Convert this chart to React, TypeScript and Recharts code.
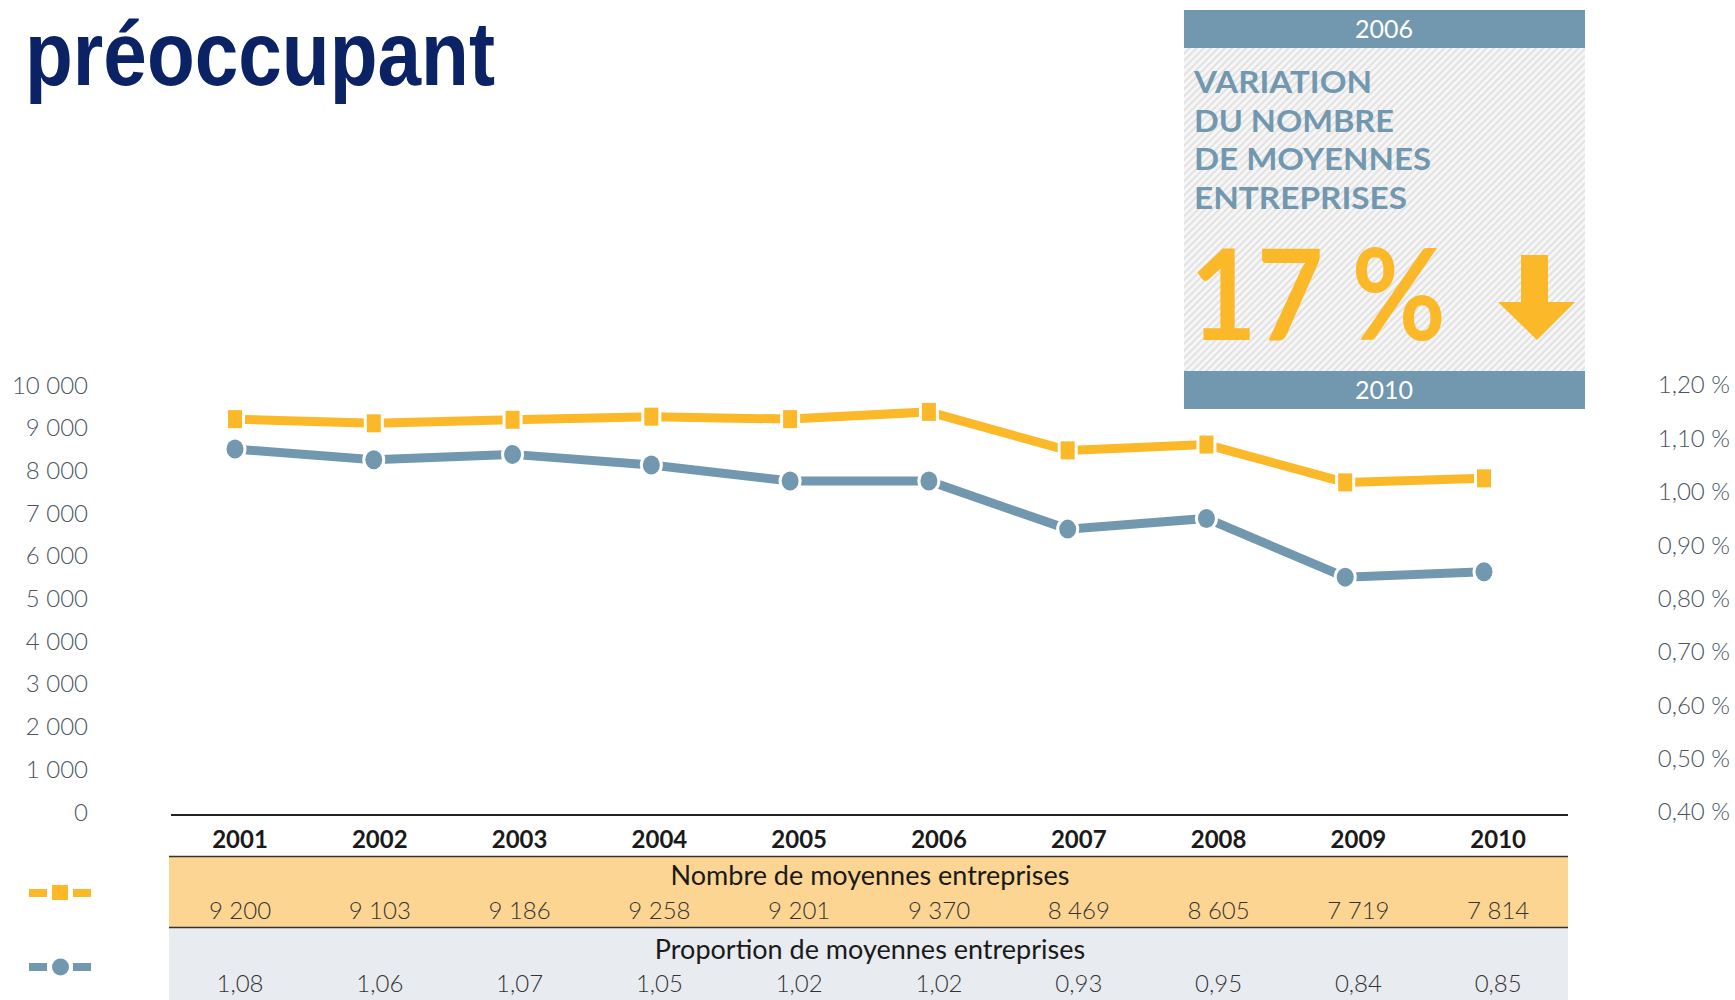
import React from "react";
import { LineChart, Line, XAxis, YAxis } from "recharts";

const years = ["2001", "2002", "2003", "2004", "2005", "2006", "2007", "2008", "2009", "2010"];
const nombre = [9200, 9103, 9186, 9258, 9201, 9370, 8469, 8605, 7719, 7814];
const proportion = [1.08, 1.06, 1.07, 1.05, 1.02, 1.02, 0.93, 0.95, 0.84, 0.85];
const leftTicks = [0, 1000, 2000, 3000, 4000, 5000, 6000, 7000, 8000, 9000, 10000];
const rightTicks = [0.4, 0.5, 0.6, 0.7, 0.8, 0.9, 1.0, 1.1, 1.2];
const boxLines = ["VARIATION", "DU NOMBRE", "DE MOYENNES", "ENTREPRISES"];

const YELLOW = "#fbb829";
const BLUE = "#7298b0";
const NAVY = "#0b2265";
const FONT = "Lato, 'Open Sans', sans-serif";

const data = years.map((y, i) => ({ year: y, nombre: nombre[i], proportion: proportion[i] }));

const fmtNombre = (v: number) => v.toString().replace(/\B(?=(\d{3})+(?!\d))/g, " ");
const fmtProp = (v: number) => v.toFixed(2).replace(".", ",");

const SquareDot = ({ cx, cy }: any) => (
  <g>
    <rect x={cx - 10} y={cy - 12} width={20} height={24} fill="#fff" />
    <rect x={cx - 7} y={cy - 9} width={14} height={18} fill={YELLOW} />
  </g>
);

const RoundDot = ({ cx, cy }: any) => (
  <g>
    <ellipse cx={cx} cy={cy} rx={11.5} ry={12.5} fill="#fff" />
    <ellipse cx={cx} cy={cy} rx={8.5} ry={9.5} fill={BLUE} />
  </g>
);

const RightTick = ({ x, y, payload }: any) => (
  <text x={x + 246} y={y} dy="0.35em" textAnchor="end" fontSize={24} fontWeight={300}
    fontFamily={FONT} fill="#4a5561">
    {fmtProp(payload.value)} %
  </text>
);

const colX = (i: number) => 240 + i * 139.8;

export default function App() {
  return (
    <div style={{ position: "absolute", left: 0, top: 0, width: 1735, height: 1000, background: "#fff", overflow: "hidden" }}>
      {/* title */}
      <svg width={700} height={130} style={{ position: "absolute", left: 0, top: 0 }}>
        <text x={25} y={85} fontSize={90} fontWeight={700} fontFamily="'Liberation Sans', Arial, sans-serif"
          fill={NAVY} textLength={470} lengthAdjust="spacingAndGlyphs">
          préoccupant
        </text>
      </svg>

      <div style={{ position: "absolute", left: 0, top: 0 }}>
        <LineChart width={1735} height={1000} data={data} margin={{ top: 385, bottom: 188, left: 0, right: 0 }}>
          <XAxis dataKey="year" hide />
          <YAxis
            yAxisId="left"
            width={235}
            domain={[0, 10000]}
            ticks={leftTicks}
            interval={0}
            axisLine={false}
            tickLine={false}
            tickSize={0}
            tickMargin={147}
            tickFormatter={fmtNombre}
            tick={{ fontSize: 24, fontWeight: 300, fontFamily: FONT, fill: "#4a5561" }}
          />
          <YAxis
            yAxisId="right"
            orientation="right"
            width={251}
            domain={[0.4, 1.2]}
            ticks={rightTicks}
            interval={0}
            axisLine={false}
            tickLine={false}
            tickSize={0}
            tickMargin={0}
            tick={<RightTick />}
          />
          <Line yAxisId="right" type="linear" dataKey="proportion" stroke={BLUE} strokeWidth={9}
            dot={<RoundDot />} isAnimationActive={false} />
          <Line yAxisId="left" type="linear" dataKey="nombre" stroke={YELLOW} strokeWidth={9}
            dot={<SquareDot />} isAnimationActive={false} />
        </LineChart>
      </div>

      {/* info box */}
      <svg width={401} height={400} style={{ position: "absolute", left: 1184, top: 10 }}>
        <defs>
          <pattern id="hatch" width={5} height={5} patternUnits="userSpaceOnUse" patternTransform="rotate(45)">
            <rect width={5} height={5} fill="#f6f6f6" />
            <rect width={2} height={5} fill="#e2e2e2" />
          </pattern>
        </defs>
        <rect x={0} y={0} width={401} height={399} fill="url(#hatch)" />
        <rect x={0} y={0} width={401} height={38} fill={BLUE} />
        <rect x={0} y={361} width={401} height={38} fill={BLUE} />
        <text x={200} y={19} dy="0.35em" textAnchor="middle" fontSize={25} fontFamily={FONT} fill="#fff">2006</text>
        <text x={200} y={380} dy="0.35em" textAnchor="middle" fontSize={25} fontFamily={FONT} fill="#fff">2010</text>
        {boxLines.map((t, i) => (
          <text key={t} x={10} y={83 + i * 38.7} fontSize={30} fontWeight={700} fontFamily={FONT} fill={BLUE}
            textLength={[178, 200, 237, 213][i]} lengthAdjust="spacingAndGlyphs">
            {t}
          </text>
        ))}
        <text x={6} y={330} fontSize={126} fontWeight={700} fontFamily={FONT} fill={YELLOW}
          textLength={256} lengthAdjust="spacingAndGlyphs">
          17 %
        </text>
        <polygon points="337,245 364,245 364,292 391,292 353,330 314,292 337,292" fill={YELLOW} />
      </svg>

      {/* legend icons */}
      <svg width={100} height={100} style={{ position: "absolute", left: 0, top: 880 }}>
        <rect x={29} y={9} width={18} height={8} fill={YELLOW} />
        <rect x={52} y={5} width={16} height={15} fill={YELLOW} />
        <rect x={73} y={9} width={18} height={8} fill={YELLOW} />
        <rect x={29} y={83} width={18} height={8} fill={BLUE} />
        <circle cx={60.5} cy={87} r={8.5} fill={BLUE} />
        <rect x={73} y={83} width={18} height={8} fill={BLUE} />
      </svg>

      {/* data table */}
      <svg width={1400} height={190} style={{ position: "absolute", left: 169, top: 812 }}>
        <rect x={0} y={45} width={1399} height={70} fill="#fdd592" />
        <rect x={0} y={116} width={1399} height={80} fill="#e8ebef" />
        <line x1={2} x2={1399} y1={3} y2={3} stroke="#222" strokeWidth={2} />
        <line x1={0} x2={1399} y1={44.5} y2={44.5} stroke="#333" strokeWidth={1.5} />
        <line x1={0} x2={1399} y1={115.5} y2={115.5} stroke="#333" strokeWidth={1.5} />
        {years.map((y, i) => (
          <text key={y} x={colX(i) - 169} y={28} dy="0.35em" textAnchor="middle" fontSize={24} fontWeight={700}
            fontFamily={FONT} fill="#1a1a1a">
            {y}
          </text>
        ))}
        <text x={701} y={64} dy="0.35em" textAnchor="middle" fontSize={27} fontFamily={FONT} fill="#1a1a1a">
          Nombre de moyennes entreprises
        </text>
        {nombre.map((v, i) => (
          <text key={i} x={colX(i) - 169} y={99} dy="0.35em" textAnchor="middle" fontSize={24} fontWeight={300}
            fontFamily={FONT} fill="#333">
            {fmtNombre(v)}
          </text>
        ))}
        <text x={701} y={138} dy="0.35em" textAnchor="middle" fontSize={27} fontFamily={FONT} fill="#1a1a1a">
          Proportion de moyennes entreprises
        </text>
        {proportion.map((v, i) => (
          <text key={i} x={colX(i) - 169} y={172} dy="0.35em" textAnchor="middle" fontSize={24} fontWeight={300}
            fontFamily={FONT} fill="#333">
            {fmtProp(v)}
          </text>
        ))}
      </svg>
    </div>
  );
}
